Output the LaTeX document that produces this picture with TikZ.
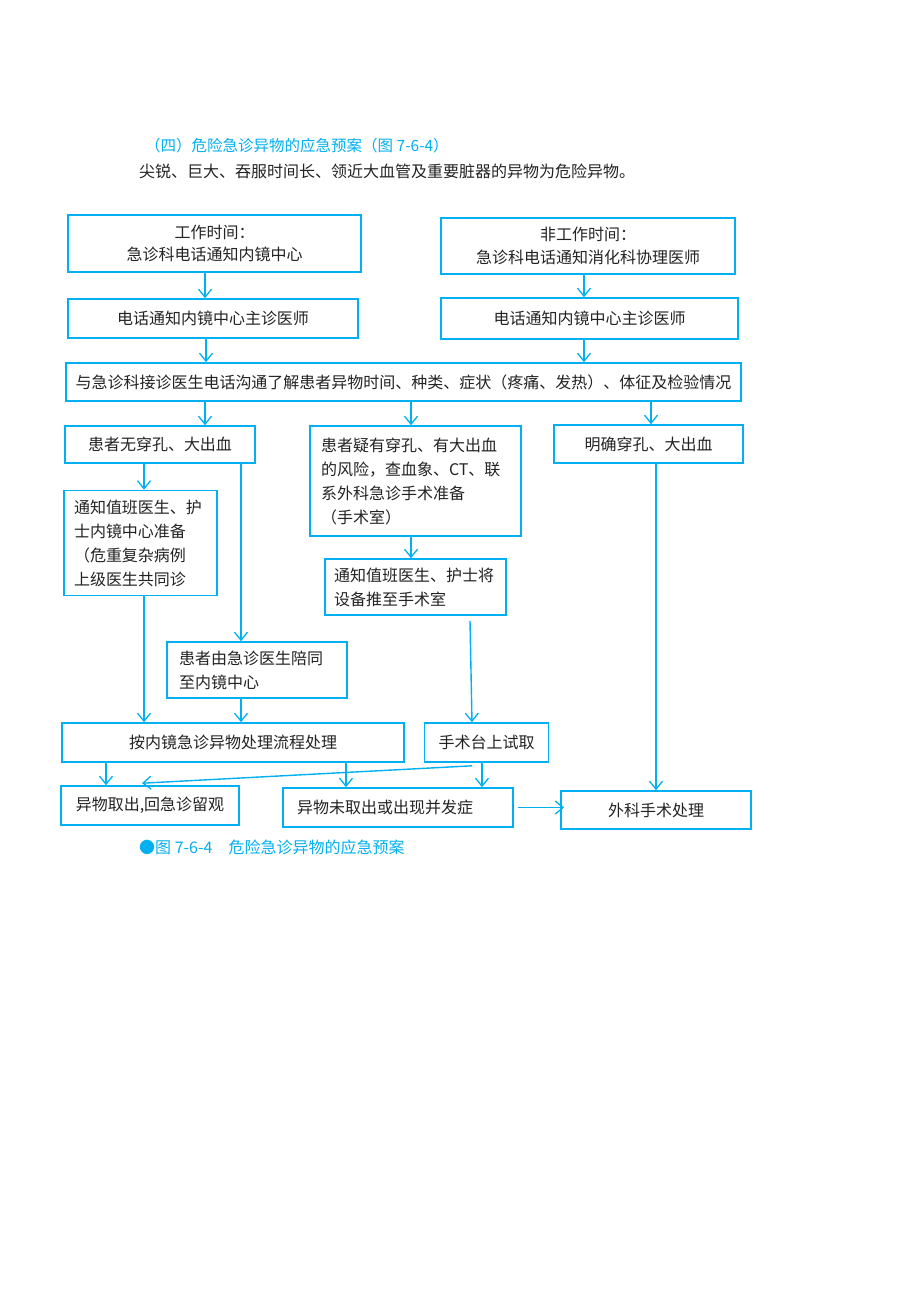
\documentclass[tikz,border=0pt]{standalone}
\usepackage{fontspec}
\setmainfont{Noto Sans CJK SC}
\usetikzlibrary{arrows.meta}
\definecolor{lblue}{RGB}{0,176,240}
\definecolor{txt}{RGB}{35,35,35}
\begin{document}
\begin{tikzpicture}[x=1pt,y=-1pt,
  box/.style={draw=lblue, line width=1.6pt, inner sep=0pt, text=txt, align=center,
    font=\fontsize{16}{24}\selectfont},
  tbox/.style={box, font=\fontsize{16}{22.5}\selectfont},
  lbox/.style={box, align=left},
  arr/.style={draw=lblue, line width=1.4pt, -{Straight Barb[length=8pt,width=13pt,line width=1.3pt]}},
  plain/.style={inner sep=0pt, anchor=west}]
\useasboundingbox[fill=white] (0,0) rectangle (920,1302);

\node[plain, text=lblue, font=\fontsize{15.5}{18}\selectfont] (head) at (145,146) {（四）危险急诊异物的应急预案（图 7-6-4）};
\node[plain, text=txt, font=\fontsize{16}{18}\selectfont] (intro) at (139,171) {尖锐、巨大、吞服时间长、领近大血管及重要脏器的异物为危险异物。};

\node[tbox, minimum width=293, minimum height=57] (b1) at (214.5,243.5) {工作时间：\\急诊科电话通知内镜中心};
\node[tbox, minimum width=294, minimum height=56] (b2) at (588,246) {非工作时间：\\急诊科电话通知消化科协理医师};
\node[box, minimum width=290, minimum height=39] (b3) at (213,318.5) {电话通知内镜中心主诊医师};
\node[box, minimum width=297, minimum height=41] (b4) at (589.5,318.5) {电话通知内镜中心主诊医师};
\node[box, minimum width=675, minimum height=38] (b5) at (403.5,382) {与急诊科接诊医生电话沟通了解患者异物时间、种类、症状（疼痛、发热）、体征及检验情况};
\node[box, minimum width=190, minimum height=37] (b6) at (160,444.5) {患者无穿孔、大出血};
\node[lbox, text width=189, inner xsep=11, minimum height=110] (b7) at (415.5,481) {患者疑有穿孔、有大出血\\的风险，查血象、CT、联\\系外科急诊手术准备\\（手术室）};
\node[box, minimum width=189, minimum height=38] (b8) at (648.5,444) {明确穿孔、大出血};
\node[lbox, text width=133, inner xsep=10, minimum height=105] (b9) at (140.5,543) {通知值班医生、护\\士内镜中心准备\\（危重复杂病例\\上级医生共同诊};
\node[lbox, text width=163, inner xsep=9, minimum height=56] (b10) at (415.5,587) {通知值班医生、护士将\\设备推至手术室};
\node[lbox, text width=156, inner xsep=12, minimum height=56] (b11) at (257,670) {患者由急诊医生陪同\\至内镜中心};
\node[box, minimum width=342, minimum height=39] (b12) at (233,742.5) {按内镜急诊异物处理流程处理};
\node[box, minimum width=124, minimum height=39] (b13) at (486.5,742.5) {手术台上试取};
\node[box, minimum width=178, minimum height=39] (b14) at (150,805.5) {异物取出,回急诊留观};
\node[lbox, text width=202, inner xsep=14, minimum height=39] (b15) at (398,807.5) {异物未取出或出现并发症};
\node[box, minimum width=190, minimum height=38] (b16) at (656,810) {外科手术处理};

\node[plain, text=lblue, font=\fontsize{16}{18}\selectfont] (cap) at (139,847) {●图 7-6-4\hspace{16pt}危险急诊异物的应急预案};

\draw[arr] ([xshift=-9.5]b1.south) -- ([xshift=-9.5]b1.south |- b3.north);
\draw[arr] ([xshift=-4]b2.south) -- ([xshift=-4]b2.south |- b4.north);
\draw[arr] ([xshift=-7]b3.south) -- ([xshift=-7]b3.south |- b5.north);
\draw[arr] ([xshift=-5.5]b4.south) -- ([xshift=-5.5]b4.south |- b5.north);
\draw[arr] ([xshift=-198.5]b5.south) -- ([xshift=-198.5]b5.south |- b6.north);
\draw[arr] ([xshift=7.5]b5.south) -- ([xshift=7.5]b5.south |- b7.north);
\draw[arr] ([xshift=247.5]b5.south) -- ([xshift=247.5]b5.south |- b8.north);
\draw[arr] ([xshift=-16]b6.south) -- ([xshift=-16]b6.south |- b9.north);
\draw[arr] ([xshift=81]b6.south) -- ([xshift=81]b6.south |- b11.north);
\draw[arr] ([xshift=3.5]b9.south) -- ([xshift=3.5]b9.south |- b12.north);
\draw[arr] ([xshift=-4.5]b7.south) -- ([xshift=-4.5]b7.south |- b10.north);
\draw[arr] ([xshift=-16]b11.south) -- ([xshift=-16]b11.south |- b12.north);
\draw[arr] ([xshift=54.5,yshift=-5]b10.south) -- ([xshift=-14.5]b13.north);
\draw[arr] ([xshift=7.5]b8.south) -- ([xshift=7.5]b8.south |- b16.north);
\draw[arr] ([xshift=-127]b12.south) -- ([xshift=-127]b12.south |- b14.north);
\draw[arr] ([xshift=113]b12.south) -- ([xshift=113]b12.south |- b15.north);
\draw[arr] ([xshift=-4.5]b13.south) -- ([xshift=-4.5]b13.south |- b15.north);
\draw[arr] ([xshift=-14.5,yshift=-3]b13.south) -- ([xshift=-8,yshift=2]b14.north);
\draw[arr] ([xshift=4]b15.east) -- ([xshift=4]b15.east -| b16.west);
\end{tikzpicture}
\end{document}
